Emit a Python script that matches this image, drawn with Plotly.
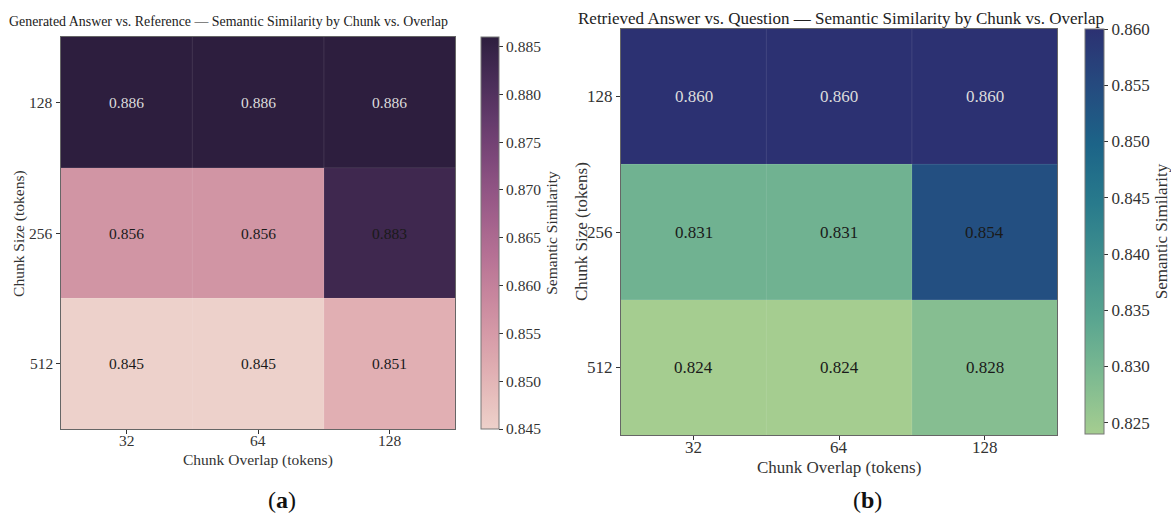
import numpy as np
import plotly.graph_objects as go

# ---- data -------------------------------------------------------------
overlap_labels = ["32", "64", "128"]      # chunk overlap (tokens), columns
size_labels = ["128", "256", "512"]       # chunk size (tokens), rows

gen_vs_ref = [
    [0.886, 0.886, 0.886],
    [0.856, 0.856, 0.883],
    [0.845, 0.845, 0.851],
]
ret_vs_q = [
    [0.860, 0.860, 0.860],
    [0.831, 0.831, 0.854],
    [0.824, 0.824, 0.828],
]

FONT = "Liberation Serif"


# ---- colour scales ----------------------------------------------------
def cubehelix_scale(n=64, start=0.0, rot=0.4, gamma=1.0, hue=0.8, light=0.85, dark=0.15):
    """Seaborn-style cubehelix palette, light -> dark, as a plotly colorscale."""
    xs = np.linspace(light, dark, n)
    out = []
    for i, x in enumerate(xs):
        xg = x ** gamma
        a = hue * xg * (1 - xg) / 2
        phi = 2 * np.pi * (start / 3 + rot * x)
        r = xg + a * (-0.14861 * np.cos(phi) + 1.78277 * np.sin(phi))
        g = xg + a * (-0.29227 * np.cos(phi) - 0.90649 * np.sin(phi))
        b = xg + a * (1.97294 * np.cos(phi))
        rgb = [int(round(255 * min(max(c, 0), 1))) for c in (r, g, b)]
        out.append([i / (n - 1), "rgb(%d,%d,%d)" % tuple(rgb)])
    return out


crest = [
    [0.0, "#a5cd90"],
    [1 / 7, "#7dba91"],
    [2 / 7, "#59a590"],
    [3 / 7, "#40908e"],
    [4 / 7, "#287a8c"],
    [5 / 7, "#1c6488"],
    [6 / 7, "#254b7f"],
    [1.0, "#2c3172"],
]

W, H = 1171, 517


def px_x(v):
    return v / W


def px_y(v):
    return 1 - v / H


fig = go.Figure()

panels = [
    dict(z=gen_vs_ref, xa="x", ya="y", ca="coloraxis",
         title="Generated Answer vs. Reference — Semantic Similarity by Chunk vs. Overlap",
         dom_x=(61, 457), dom_y=(37, 429), fs=15.5, tfs=13.9,
         title_xy=(229, 21), xtick_y=440, xt_y=460, yt_x=19, cap="a", cap_x=283),
    dict(z=ret_vs_q, xa="x2", ya="y2", ca="coloraxis2",
         title="Retrieved Answer vs. Question — Semantic Similarity by Chunk vs. Overlap",
         dom_x=(623, 1061), dom_y=(29, 435), fs=17, tfs=17.0,
         title_xy=(844, 18), xtick_y=447, xt_y=467, yt_x=583, cap="b", cap_x=870),
]

col_idx = list(range(len(overlap_labels)))
row_idx = list(range(len(size_labels)))

annotations = []
shapes = []
layout_axes = {}

for k, p in enumerate(panels):
    z = np.array(p["z"])
    fig.add_trace(go.Heatmap(
        z=z, x=col_idx, y=row_idx,
        xaxis=p["xa"], yaxis=p["ya"], coloraxis=p["ca"],
        customdata=[[f"{o} / {s}" for o in overlap_labels] for s in size_labels],
        hovertemplate="overlap / size: %{customdata}<br>%{z:.3f}<extra></extra>",
    ))
    zmax = z.max()
    for i, row in enumerate(p["z"]):
        for j, v in enumerate(row):
            annotations.append(dict(
                x=col_idx[j], y=row_idx[i], xref=p["xa"], yref=p["ya"],
                text=f"{v:.3f}", showarrow=False,
                font=dict(family=FONT, size=p["fs"],
                          color="#dcdcdc" if v >= zmax - 1e-9 else "#1a1a1a"),
            ))
    # faint cell separators
    for b in (0.5, 1.5):
        shapes.append(dict(type="line", xref=p["xa"], yref=p["ya"] + " domain",
                           x0=b, x1=b, y0=0, y1=1,
                           line=dict(color="rgba(255,255,255,0.10)", width=1)))
        shapes.append(dict(type="line", xref=p["xa"] + " domain", yref=p["ya"],
                           x0=0, x1=1, y0=b, y1=b,
                           line=dict(color="rgba(255,255,255,0.10)", width=1)))

    tick_font = dict(family=FONT, size=p["fs"], color="#333333")
    # tick labels placed close to the frame
    for j, lab in zip(col_idx, overlap_labels):
        annotations.append(dict(x=j, y=px_y(p["xtick_y"]), xref=p["xa"], yref="paper",
                                text=lab, showarrow=False, xanchor="center",
                                yanchor="middle", font=tick_font))
    for i, lab in zip(row_idx, size_labels):
        annotations.append(dict(x=px_x(p["dom_x"][0] - 6), y=i, xref="paper", yref=p["ya"],
                                text=lab, showarrow=False, xanchor="right",
                                yanchor="middle", xshift=0, font=tick_font))

    xname = "xaxis" if k == 0 else "xaxis2"
    yname = "yaxis" if k == 0 else "yaxis2"
    layout_axes[xname] = dict(
        domain=[px_x(p["dom_x"][0]), px_x(p["dom_x"][1])], anchor=p["ya"],
        range=[-0.5, len(col_idx) - 0.5], tickvals=col_idx, showticklabels=False,
        showgrid=False, zeroline=False,
        showline=True, linecolor="#666666", linewidth=1, mirror=True,
        ticks="outside", ticklen=4, tickcolor="#333333",
    )
    layout_axes[yname] = dict(
        domain=[px_y(p["dom_y"][1]), px_y(p["dom_y"][0])], anchor=p["xa"],
        range=[len(row_idx) - 0.5, -0.5], tickvals=row_idx, showticklabels=False,
        showgrid=False, zeroline=False,
        showline=True, linecolor="#666666", linewidth=1, mirror=True,
        ticks="outside", ticklen=4, tickcolor="#333333",
    )

    cx = (p["dom_x"][0] + p["dom_x"][1]) / 2
    cy = (p["dom_y"][0] + p["dom_y"][1]) / 2
    annotations += [
        dict(x=px_x(p["title_xy"][0]), y=px_y(p["title_xy"][1]), xref="paper", yref="paper",
             text=p["title"], showarrow=False, xanchor="center", yanchor="middle",
             font=dict(family=FONT, size=p["tfs"], color="#222222")),
        dict(x=px_x(cx), y=px_y(p["xt_y"]), xref="paper", yref="paper",
             text="Chunk Overlap (tokens)", showarrow=False, xanchor="center", yanchor="middle",
             font=dict(family=FONT, size=p["fs"], color="#333333")),
        dict(x=px_x(p["yt_x"]), y=px_y(cy), xref="paper", yref="paper",
             text="Chunk Size (tokens)", showarrow=False, textangle=-90,
             xanchor="center", yanchor="middle",
             font=dict(family=FONT, size=p["fs"], color="#333333")),
        dict(x=px_x(p["cap_x"]), y=px_y(500), xref="paper", yref="paper",
             text=f"(<b>{p['cap']}</b>)", showarrow=False, xanchor="center", yanchor="middle",
             font=dict(family=FONT, size=24, color="#111111")),
    ]

left_min, left_max = float(np.min(gen_vs_ref)), float(np.max(gen_vs_ref))
right_min, right_max = float(np.min(ret_vs_q)), float(np.max(ret_vs_q))

fig.update_layout(
    width=W, height=H,
    margin=dict(l=0, r=0, t=0, b=0),
    paper_bgcolor="white", plot_bgcolor="white",
    font=dict(family=FONT, color="#333333"),
    showlegend=False,
    annotations=annotations,
    shapes=shapes,
    coloraxis=dict(
        colorscale=cubehelix_scale(), cmin=left_min, cmax=left_max,
        colorbar=dict(
            x=px_x(483), xanchor="left", thickness=18, xpad=0, ypad=0,
            y=px_y((37 + 429) / 2), yanchor="middle", len=(429 - 37) / H,
            outlinecolor="#777777", outlinewidth=1,
            tick0=0.845, dtick=0.005, tickformat=".3f",
            ticks="outside", ticklen=4, tickcolor="#333333",
            tickfont=dict(family=FONT, size=15.5, color="#333333"),
            title=dict(text="Semantic Similarity", side="right",
                       font=dict(family=FONT, size=15.5, color="#333333")),
        ),
    ),
    coloraxis2=dict(
        colorscale=crest, cmin=right_min, cmax=right_max,
        colorbar=dict(
            x=px_x(1089), xanchor="left", thickness=19, xpad=0, ypad=0,
            y=px_y((29 + 434) / 2), yanchor="middle", len=(434 - 29) / H,
            outlinecolor="#777777", outlinewidth=1,
            tick0=0.825, dtick=0.005, tickformat=".3f",
            ticks="outside", ticklen=4, tickcolor="#333333",
            tickfont=dict(family=FONT, size=17, color="#333333"),
            title=dict(text="Semantic Similarity", side="right",
                       font=dict(family=FONT, size=17, color="#333333")),
        ),
    ),
    **layout_axes,
)

fig.write_html("out.html")
